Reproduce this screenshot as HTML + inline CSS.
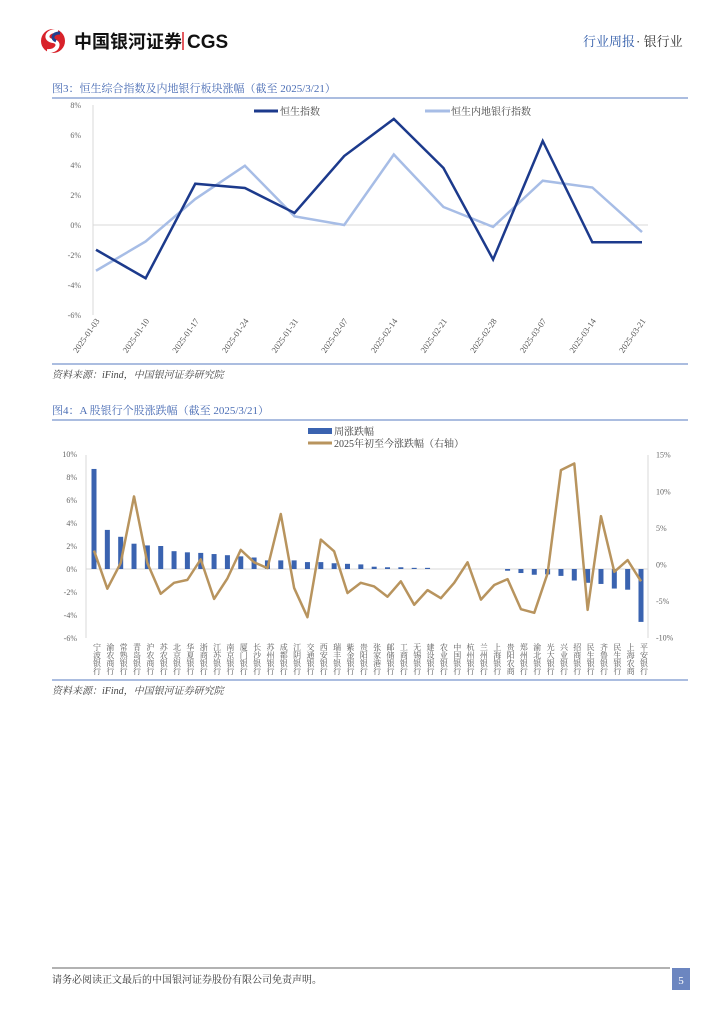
<!DOCTYPE html>
<html><head><meta charset="utf-8"><style>
body{margin:0;background:#fff;}
svg{display:block;font-family:"Liberation Serif","Noto Serif CJK SC","Noto Sans CJK SC",serif;}
</style></head><body>
<svg id="page" width="724" height="1024" viewBox="0 0 724 1024" xmlns="http://www.w3.org/2000/svg">
<g>
  <g>
    <circle cx="53" cy="41" r="12" fill="#d8222a"/>
    <path d="M58 31 C46 30 44 40 53 41 C61 42 58 52 47 51" stroke="#fff" stroke-width="4" fill="none"/>
    <path d="M60 33 C52 33 51 39 56 41" stroke="#1f3f8f" stroke-width="3" fill="none"/>
  </g>
  <text x="74" y="48" font-family="Liberation Sans,Noto Sans CJK SC,sans-serif" font-weight="bold" font-size="18" fill="#111">中国银河证券</text>
  <line x1="183" y1="32" x2="183" y2="50" stroke="#d8222a" stroke-width="1.5"/>
  <text x="187" y="48" font-family="Liberation Sans,sans-serif" font-weight="bold" font-size="19" fill="#111">CGS</text>
  <text x="583" y="46" font-size="13" fill="#2e5aa8">行业周报</text>
  <text x="636" y="46" font-size="13" fill="#333">· 银行业</text>
</g>

<g id="chart1">
  <text x="52" y="92" font-size="11" fill="#4a6db5">图3：恒生综合指数及内地银行板块涨幅（截至 2025/3/21）</text>
  <line x1="52" y1="98" x2="688" y2="98" stroke="#8fa7d6" stroke-width="1.5"/>
  <line x1="52" y1="364" x2="688" y2="364" stroke="#8fa7d6" stroke-width="1.5"/>
  <text x="52" y="378" font-size="10" font-style="italic" fill="#444">资料来源：iFind，中国银河证券研究院</text>
  <g id="c1axes"></g>
  <g id="c1lines"></g>
  <g>
    <line x1="254" y1="111" x2="278" y2="111" stroke="#1c3a8c" stroke-width="3"/>
    <text x="280" y="115" font-size="10" fill="#444">恒生指数</text>
    <line x1="425" y1="111" x2="450" y2="111" stroke="#a7bde6" stroke-width="3"/>
    <text x="451" y="115" font-size="10" fill="#444">恒生内地银行指数</text>
  </g>
</g>

<g id="chart2">
  <text x="52" y="414" font-size="11" fill="#4a6db5">图4：A 股银行个股涨跌幅（截至 2025/3/21）</text>
  <line x1="52" y1="420" x2="688" y2="420" stroke="#8fa7d6" stroke-width="1.5"/>
  <line x1="52" y1="680" x2="688" y2="680" stroke="#8fa7d6" stroke-width="1.5"/>
  <text x="52" y="694" font-size="10" font-style="italic" fill="#444">资料来源：iFind，中国银河证券研究院</text>
  <g>
    <rect x="308" y="428" width="24" height="6" fill="#3a63b0"/>
    <text x="334" y="435" font-size="10" fill="#444">周涨跌幅</text>
    <line x1="308" y1="443" x2="332" y2="443" stroke="#b8945e" stroke-width="3"/>
    <text x="334" y="447" font-size="10" fill="#444">2025年初至今涨跌幅（右轴）</text>
  </g>
  <g id="c2axes"></g>
  <g id="c2marks"></g>
</g>

<g>
  <line x1="52" y1="968" x2="670" y2="968" stroke="#666" stroke-width="1"/>
  <text x="52" y="983" font-size="10" fill="#333">请务必阅读正文最后的中国银河证券股份有限公司免责声明。</text>
  <rect x="672" y="968" width="18" height="22" fill="#6c86c0"/>
  <text x="681" y="984" font-size="11" fill="#fff" text-anchor="middle">5</text>
</g>
</svg>
<script>
const c1Dates=["2025-01-03","2025-01-10","2025-01-17","2025-01-24","2025-01-31","2025-02-07","2025-02-14","2025-02-21","2025-02-28","2025-03-07","2025-03-14","2025-03-21"];
const c1Hsi=[-1.65,-3.55,2.75,2.47,0.8,4.6,7.07,3.8,-2.3,5.6,-1.15,-1.15];
const c1Bank=[-3.05,-1.1,1.73,3.95,0.58,0,4.7,1.2,-0.13,2.95,2.5,-0.47];
const c1Ticks=[8,6,4,2,0,-2,-4,-6];

const c2Banks=["宁波银行","渝农商行","常熟银行","青岛银行","沪农商行","苏农银行","北京银行","华夏银行","浙商银行","江苏银行","南京银行","厦门银行","长沙银行","苏州银行","成都银行","江阴银行","交通银行","西安银行","瑞丰银行","紫金银行","贵阳银行","张家港行","邮储银行","工商银行","无锡银行","建设银行","农业银行","中国银行","杭州银行","兰州银行","上海银行","贵阳农商","郑州银行","渝北银行","光大银行","兴业银行","招商银行","民生银行","齐鲁银行","民生银行","上海农商","平安银行"];
const c2Weekly=[8.7,3.4,2.8,2.2,2.05,2.0,1.55,1.45,1.4,1.3,1.2,1.1,1.0,0.75,0.75,0.75,0.6,0.6,0.5,0.45,0.4,0.2,0.15,0.15,0.1,0.1,0,0,0,0,0,-0.15,-0.35,-0.5,-0.47,-0.6,-1.0,-1.2,-1.3,-1.7,-1.8,-4.6];
const c2Ytd=[1.9,-3.3,0.2,9.3,0.2,-4.0,-2.5,-2.1,0.7,-4.7,-1.9,2.0,0.3,-0.5,6.9,-3.2,-7.2,3.4,1.8,-3.9,-2.5,-3.0,-4.4,-2.3,-5.5,-3.5,-4.6,-2.5,0.3,-4.8,-2.8,-2.0,-6.1,-6.6,-1.2,12.9,13.8,-6.2,6.6,-1.0,0.6,-2.3];
const c2LeftTicks=[10,8,6,4,2,0,-2,-4,-6];
const c2RightTicks=[15,10,5,0,-5,-10];

const NS="http://www.w3.org/2000/svg";
function mk(tag,attrs,parent,text){const e=document.createElementNS(NS,tag);for(const k in attrs)e.setAttribute(k,attrs[k]);if(text!==undefined)e.textContent=text;parent.appendChild(e);return e;}

// Chart 1
(function(){
  const ax=document.getElementById('c1axes'),ln=document.getElementById('c1lines');
  const y=v=>225-v*15, x=i=>96+i*(642-96)/(c1Dates.length-1);
  const yax=mk('line',{x1:93,y1:105,x2:93,y2:315,stroke:'#d9d9d9'},ax);
  
  
  const zl=mk('line',{x1:93,y1:y(0),x2:648,y2:y(0),stroke:'#d9d9d9'},ax);
  
  
  c1Ticks.forEach(t=>{
    const e=mk('text',{x:81,y:y(t)+3,'font-size':8,fill:'#666','text-anchor':'end'},ax,t+'%');
    
    
  });
  c1Dates.forEach((d,i)=>{
    const e=mk('text',{x:x(i)+4,y:321,'font-size':8.5,fill:'#555','text-anchor':'end',transform:`rotate(-55 ${x(i)+4} 321)`},ax,d);
    
    
  });
  const l2=mk('polyline',{points:c1Bank.map((v,i)=>x(i)+','+y(v)).join(' '),fill:'none',stroke:'#a7bde6','stroke-width':2.5},ln);
  
  
  const l1=mk('polyline',{points:c1Hsi.map((v,i)=>x(i)+','+y(v)).join(' '),fill:'none',stroke:'#1c3a8c','stroke-width':2.5},ln);
  
  
})();

// Chart 2
(function(){
  const ax=document.getElementById('c2axes'),mg=document.getElementById('c2marks');
  const yl=v=>569-v*11.5, yr=v=>564.5-v*7.32;
  const n=c2Banks.length, x=i=>94+i*(641-94)/(n-1);
  const la=mk('line',{x1:86,y1:455,x2:86,y2:638,stroke:'#d9d9d9'},ax);
  
  
  const ra=mk('line',{x1:648,y1:455,x2:648,y2:638,stroke:'#d9d9d9'},ax);
  
  
  const zl=mk('line',{x1:86,y1:yl(0),x2:648,y2:yl(0),stroke:'#d9d9d9'},ax);
  
  
  c2LeftTicks.forEach(t=>{
    const e=mk('text',{x:77,y:yl(t)+3,'font-size':8,fill:'#666','text-anchor':'end'},ax,t+'%');
    
    
  });
  c2RightTicks.forEach(t=>{
    const e=mk('text',{x:656,y:yr(t)+3,'font-size':8,fill:'#666'},ax,t+'%');
    
    
  });
  c2Banks.forEach((b,i)=>{
    const e=mk('text',{x:x(i)+3,y:643,'font-size':8,fill:'#555',style:'writing-mode:tb;glyph-orientation-vertical:0'},ax,b);
    
    
  });
  c2Weekly.forEach((v,i)=>{
    const y0=yl(0),y1=yl(v);
    const r=mk('rect',{x:x(i)-2.5,y:Math.min(y0,y1),width:5,height:Math.abs(y1-y0),fill:'#3a63b0'},mg);
    
    
  });
  const l=mk('polyline',{points:c2Ytd.map((v,i)=>x(i)+','+yr(v)).join(' '),fill:'none',stroke:'#b8945e','stroke-width':2.5,'stroke-linejoin':'round'},mg);
  
  
})();
</script>
</body></html>
